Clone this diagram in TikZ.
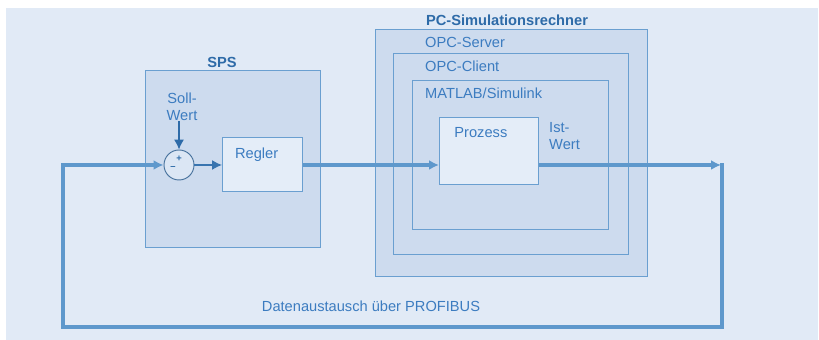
\documentclass[tikz,border=0pt]{standalone}
\usepackage{fontspec}
\setmainfont{Liberation Sans}
\usetikzlibrary{arrows.meta}

\definecolor{bgblue}{HTML}{E1EAF6}
\definecolor{boxfill}{HTML}{CDDBEE}
\definecolor{innerfill}{HTML}{E4EDF8}
\definecolor{boxline}{HTML}{6A9FD0}
\definecolor{busline}{HTML}{5E98CC}
\definecolor{txtblue}{HTML}{3C7CC0}
\definecolor{darkblue}{HTML}{2E6BA8}

\tikzstyle{box} = [draw=boxline, fill=boxfill, rectangle, anchor=north west,
                   line width=1.2pt, inner sep=0mm]
\tikzstyle{lbl} = [text=txtblue, inner sep=0mm,
                   font=\fontsize{12.5}{14.5}\selectfont]
\tikzstyle{bus} = [draw=busline, line width=2.6pt]

\begin{document}
\begin{tikzpicture}[>={Latex[length=3mm,width=3mm]}]

\useasboundingbox (0,0) rectangle (24.57,10.2);
\fill[bgblue] (0.18,0) rectangle (24.54,9.96);

% SPS
\node[box,minimum width=5.25cm,minimum height=5.31cm]
     at (4.35,8.1) (SPS) {};
\node[lbl,text=darkblue,font=\fontsize{12.5}{14.5}\selectfont\bfseries]
     at (6.66,8.34) (capSPS) {SPS};

\node[box,fill=innerfill,minimum width=2.4cm,minimum height=1.62cm,
      label={[lbl,anchor=north,xshift=-1.8mm,yshift=-3.3mm]north:Regler}]
     at (6.66,6.09) (Regler) {};

\node[draw=darkblue!70!gray,fill=innerfill!60!boxfill,circle,
      minimum size=0.9cm,line width=0.8pt]
     at (5.37,5.25) (sum) {};
\node[text=darkblue,font=\footnotesize\bfseries,inner sep=0mm]
     at ([yshift=2mm]sum.center) (plus) {+};
\node[text=darkblue,font=\footnotesize\bfseries,inner sep=0mm]
     at ([xshift=-1.8mm,yshift=-0.8mm]sum.center) (minus) {--};

\node[lbl,align=center] at (5.46,6.99) (soll) {Soll-\\Wert};
\draw[->,darkblue,line width=1pt] (sum.north |- soll.south) -- (sum.north);
\draw[->,darkblue!80!busline,line width=1.2pt] (sum.east)
     -- (sum.east -| Regler.west);

% PC-Simulationsrechner
\node[box,minimum width=8.16cm,minimum height=7.41cm]
     at (11.25,9.33) (PC) {};
\node[box,minimum width=7.05cm,minimum height=6.03cm]
     at (11.79,8.61) (Server) {};
\node[box,minimum width=5.88cm,minimum height=4.47cm]
     at (12.36,7.8) (Client) {};
\node[box,fill=innerfill,minimum width=2.97cm,minimum height=2.01cm,
      label={[lbl,anchor=north,xshift=-2.5mm,yshift=-3mm]north:Prozess}]
     at (13.17,6.69) (Prozess) {};

\node[lbl,font=\fontsize{12.5}{14.5}\selectfont\bfseries,text=darkblue]
     at (15.21,9.6) (capPC) {PC-Simulationsrechner};
\node[lbl,anchor=west] at (12.75,8.94) (capServer) {OPC-Server};
\node[lbl,anchor=west] at (12.75,8.22) (capClient) {OPC-Client};
\node[lbl,anchor=west] at (12.75,7.41) (capML) {MATLAB/Simulink};

\node[lbl,align=left,anchor=north west] at (16.47,6.54) (ist) {Ist-\\Wert};

% PROFIBUS
\coordinate (cR) at (21.66,5.25);
\coordinate (cRB) at (21.66,0.39);
\coordinate (cLB) at (1.89,0.39);
\coordinate (cL) at (1.89,5.25);

\draw[bus,->] (Regler.east |- sum) -- (Prozess.west |- sum);
\draw[bus,->,shorten >=0.3mm] (Prozess.east |- cR) -- (cR);
\draw[bus,->,line join=miter] ([yshift=1.3pt]cR) -- (cRB) -- (cLB) -- (cL)
     -- (sum.west);

\node[lbl] at (11.13,1.02) (capBus) {Datenaustausch über PROFIBUS};

\end{tikzpicture}
\end{document}
